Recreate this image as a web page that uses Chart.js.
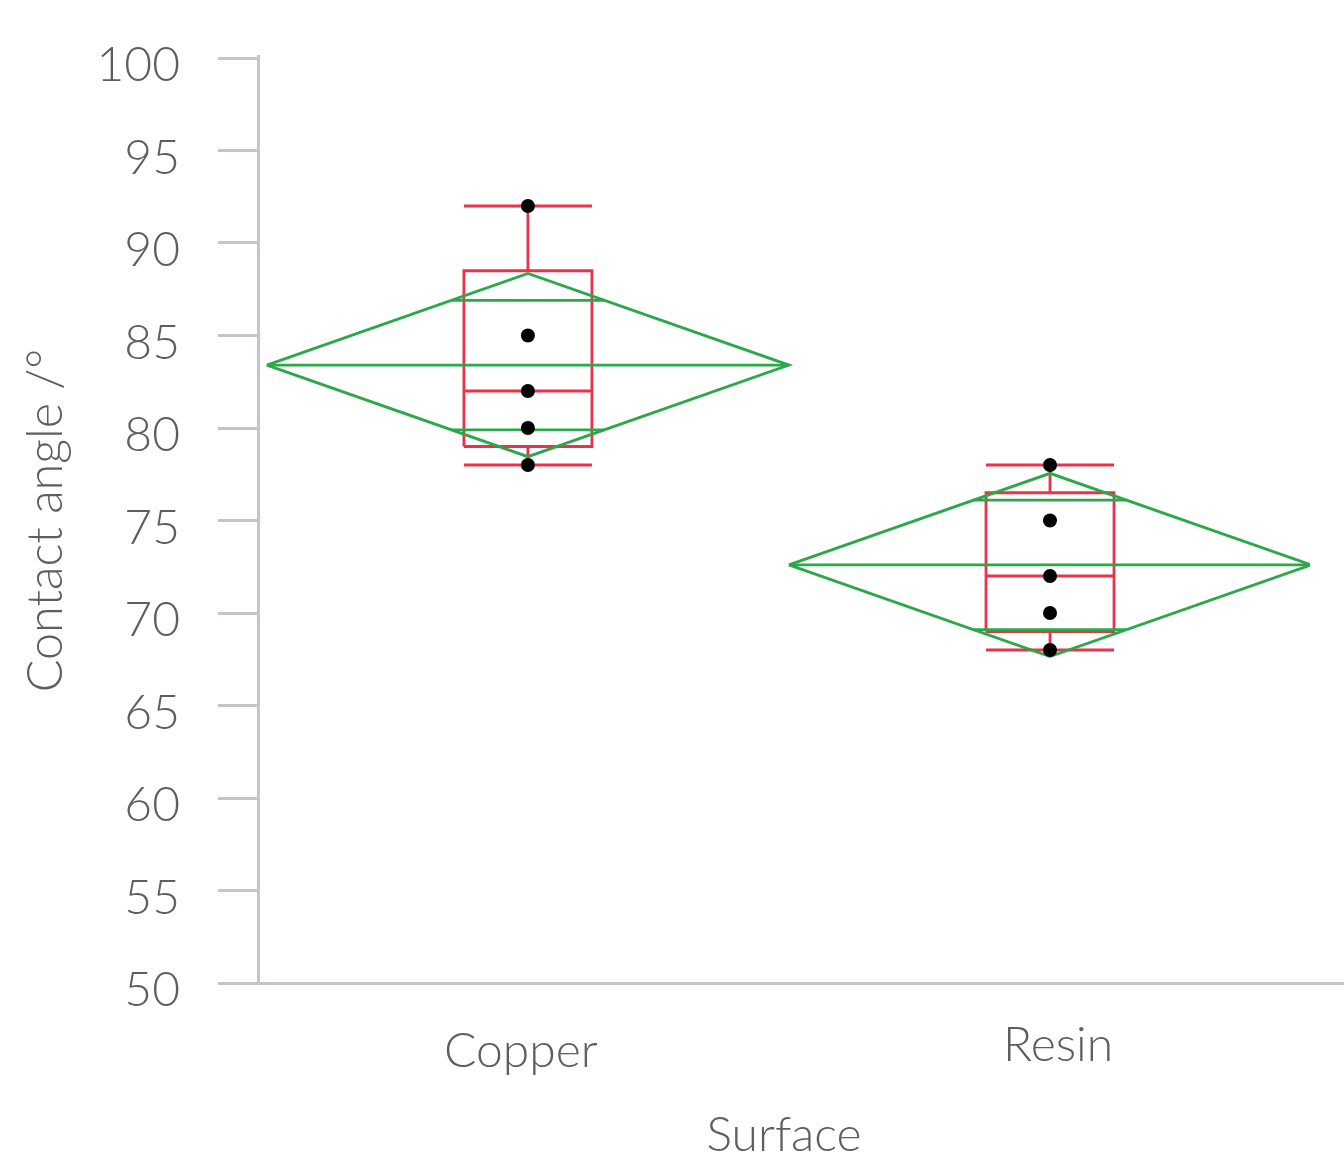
<!DOCTYPE html>
<html>
<head>
<meta charset="utf-8">
<title>Contact angle by surface</title>
<script src="https://cdn.jsdelivr.net/npm/chart.js@4.4.1/dist/chart.umd.min.js"></script>
<style>
  html, body { margin: 0; padding: 0; background: #ffffff; }
  canvas { display: block; }
</style>
</head>
<body>
<canvas id="chart" width="1344" height="1157"></canvas>
<script>
// Measured contact angles per surface
const categories = ['Copper', 'Resin'];
const copperAngles = [92, 85, 82, 80, 78];
const resinAngles = [78, 75, 72, 70, 68];

// Box plot summaries: [min, q1, median, q3, max]
const copperBox = [78, 79, 82, 88.5, 92];
const resinBox = [68, 69, 72, 76.5, 78];

// Means diamonds (95% CI) with overlap marks
const groupMeans = [83.4, 72.6];
const ciLower = [78.45, 67.65];
const ciUpper = [88.35, 77.55];
const overlapLower = [79.9, 69.1];
const overlapUpper = [86.9, 76.1];

const yTicks = [50, 55, 60, 65, 70, 75, 80, 85, 90, 95, 100];

const GREEN = '#2aa84a';
const RED = '#e8334a';
const AXIS = '#c5c3cc';
const TEXT = '#5e5e5e';
const FONT = 'Lato';
const FONT_SIZE = 48;
const LINE_W = 2.8;
const AXIS_W = 3;
const DIAMOND_HALF = 0.5;
const BOX_HALF = 0.1226;

function segment(points, color, order) {
  return {
    data: points,
    showLine: true,
    borderColor: color,
    borderWidth: LINE_W,
    pointRadius: 0,
    pointHoverRadius: 0,
    fill: false,
    tension: 0,
    order: order
  };
}

const boxes = [copperBox, resinBox];
const angles = [copperAngles, resinAngles];
const datasets = [];

categories.forEach((name, i) => {
  // observations
  datasets.push({
    label: name,
    data: angles[i].map(v => ({ x: i, y: v })),
    showLine: false,
    pointRadius: 7,
    pointHoverRadius: 7,
    pointBackgroundColor: '#000000',
    pointBorderWidth: 0,
    order: 0
  });

  // means diamond, mean line and overlap marks
  const m = groupMeans[i];
  const lo = ciLower[i], hi = ciUpper[i];
  datasets.push(segment([
    { x: i - DIAMOND_HALF, y: m }, { x: i, y: hi },
    { x: i + DIAMOND_HALF, y: m }, { x: i, y: lo },
    { x: i - DIAMOND_HALF, y: m }
  ], GREEN, 1));
  datasets.push(segment([{ x: i - DIAMOND_HALF, y: m }, { x: i + DIAMOND_HALF, y: m }], GREEN, 1));
  const wUp = DIAMOND_HALF * (1 - (overlapUpper[i] - m) / (hi - m));
  const wLo = DIAMOND_HALF * (1 - (m - overlapLower[i]) / (m - lo));
  datasets.push(segment([{ x: i - wUp, y: overlapUpper[i] }, { x: i + wUp, y: overlapUpper[i] }], GREEN, 1));
  datasets.push(segment([{ x: i - wLo, y: overlapLower[i] }, { x: i + wLo, y: overlapLower[i] }], GREEN, 1));

  // box plot
  const [mn, q1, md, q3, mx] = boxes[i];
  const L = i - BOX_HALF, R = i + BOX_HALF;
  datasets.push(segment([{ x: L, y: q1 }, { x: R, y: q1 }, { x: R, y: q3 }, { x: L, y: q3 }, { x: L, y: q1 }], RED, 2));
  datasets.push(segment([{ x: L, y: md }, { x: R, y: md }], RED, 2));
  datasets.push(segment([{ x: i, y: q3 }, { x: i, y: mx }], RED, 2));
  datasets.push(segment([{ x: i, y: q1 }, { x: i, y: mn }], RED, 2));
  datasets.push(segment([{ x: L, y: mx }, { x: R, y: mx }], RED, 2));
  datasets.push(segment([{ x: L, y: mn }, { x: R, y: mn }], RED, 2));
});

// continues the axis lines: the horizontal one to the canvas edge, the vertical one a little above the top tick
const axisExtension = {
  id: 'axisExtension',
  afterDraw(chart) {
    const { ctx, chartArea, width } = chart;
    const align = p => Math.round(p - AXIS_W / 2) + AXIS_W / 2;
    const y = align(chart.scales.x.top);
    const x = align(chart.scales.y.right);
    ctx.save();
    ctx.strokeStyle = AXIS;
    ctx.lineWidth = AXIS_W;
    ctx.beginPath();
    ctx.moveTo(chartArea.right, y);
    ctx.lineTo(width, y);
    ctx.moveTo(x, chartArea.top);
    ctx.lineTo(x, chartArea.top - 3);
    ctx.stroke();
    ctx.restore();
  }
};

new Chart(document.getElementById('chart'), {
  type: 'scatter',
  data: { datasets },
  plugins: [axisExtension],
  options: {
    responsive: false,
    animation: false,
    events: [],
    layout: { padding: { left: 0, right: 34, top: 58, bottom: 0 } },
    plugins: {
      legend: { display: false },
      tooltip: { enabled: false }
    },
    scales: {
      x: {
        type: 'linear',
        min: -0.517,
        max: 1.498,
        afterBuildTicks: s => { s.ticks = [{ value: -0.0135 }, { value: 1.0155 }]; },
        afterFit: s => { s.height = 174; s.paddingLeft = 0; s.paddingRight = 0; },
        ticks: {
          autoSkip: false,
          maxRotation: 0,
          padding: 31,
          color: TEXT,
          callback: (v, idx) => categories[idx],
          font: ctx => ({ family: FONT, size: FONT_SIZE, weight: 300, lineHeight: ctx.index === 0 ? 1.21 : 1 })
        },
        grid: { display: false },
        border: { display: true, color: AXIS, width: AXIS_W },
        title: {
          display: true,
          text: 'Surface',
          color: TEXT,
          font: { family: FONT, size: FONT_SIZE, weight: 300, lineHeight: 1 },
          padding: { top: 0, bottom: -3 }
        }
      },
      y: {
        min: 50,
        max: 100,
        afterBuildTicks: s => { s.ticks = yTicks.map(v => ({ value: v })); },
        afterFit: s => { s.width = 258; s.paddingTop = 0; s.paddingBottom = 0; },
        ticks: {
          color: TEXT,
          padding: 38,
          labelOffset: 8,
          font: { family: FONT, size: FONT_SIZE, weight: 300 }
        },
        grid: {
          drawOnChartArea: false,
          drawTicks: true,
          tickLength: 40,
          color: AXIS,
          lineWidth: AXIS_W
        },
        border: { display: true, color: AXIS, width: AXIS_W },
        title: {
          display: true,
          text: 'Contact angle /°',
          color: TEXT,
          font: { family: FONT, size: 48.5, weight: 300, lineHeight: 1 },
          padding: { top: 22.5, bottom: 0 }
        }
      }
    }
  }
});
</script>
</body>
</html>
